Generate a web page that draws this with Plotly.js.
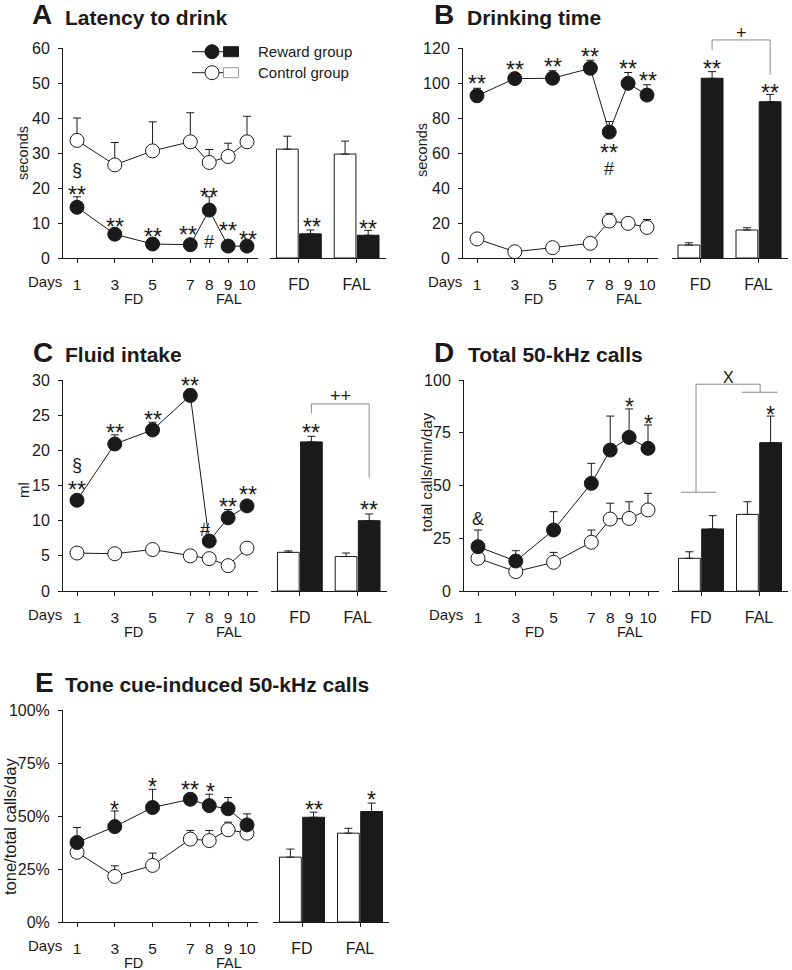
<!DOCTYPE html>
<html>
<head>
<meta charset="utf-8">
<script src="https://cdn.plot.ly/plotly-3.0.1.min.js"></script>
<style>
  body { margin: 0; background: #fff; }
  #chart { width: 792px; height: 970px; }
</style>
</head>
<body>
<div id="chart"></div>
<script>
// ---- data ----
const days = [1, 3, 5, 7, 8, 9, 10];
const phases = ['FD', 'FAL'];

// A: latency to drink (s)
const latReward = [14.5, 6.8, 4.0, 3.8, 13.7, 3.4, 3.4];
const latRewardErr = [3.0, 0.8, 0.5, 0.5, 3.8, 0.5, 0.5];
const latControl = [33.6, 26.6, 30.6, 33.2, 27.3, 29.0, 33.2];
const latControlErr = [6.4, 6.4, 8.3, 8.3, 3.7, 3.8, 7.3];
const latBarControl = [31.1, 29.7], latBarControlErr = [3.7, 3.7];
const latBarReward = [6.9, 6.5], latBarRewardErr = [1.1, 1.4];

// B: drinking time (s)
const drkReward = [92.7, 102.5, 102.7, 108.4, 72.0, 99.8, 93.1];
const drkRewardErr = [4.3, 1.0, 4.3, 4.6, 6.0, 6.2, 5.9];
const drkControl = [10.9, 3.6, 5.9, 8.4, 21.1, 19.8, 17.5];
const drkControlErr = [0.5, 0.5, 0.5, 0.5, 4.4, 1.2, 4.5];
const drkBarControl = [7.4, 16.0], drkBarControlErr = [1.3, 1.3];
const drkBarReward = [102.7, 89.3], drkBarRewardErr = [3.8, 4.2];

// C: fluid intake (ml)
const fluReward = [12.9, 20.9, 22.9, 27.8, 7.1, 10.4, 12.1];
const fluRewardErr = [0.5, 1.3, 1.1, 0.9, 0.5, 1.2, 0.5];
const fluControl = [5.4, 5.3, 5.9, 5.0, 4.6, 3.6, 6.1];
const fluControlErr = [0.3, 0.3, 0.3, 0.3, 0.3, 0.3, 0.3];
const fluBarControl = [5.5, 4.9], fluBarControlErr = [0.2, 0.5];
const fluBarReward = [21.2, 10.0], fluBarRewardErr = [0.8, 0.95];

// D: total 50-kHz calls (calls/min/day)
const totReward = [21.0, 14.2, 28.9, 51.0, 66.8, 72.8, 67.6];
const totRewardErr = [7.9, 4.9, 8.7, 9.5, 16.1, 13.5, 11.1];
const totControl = [15.5, 9.2, 13.6, 23.1, 34.1, 34.4, 38.4];
const totControlErr = [2.0, 2.0, 4.7, 5.8, 7.5, 7.9, 7.9];
const totBarControl = [15.5, 36.3], totBarControlErr = [3.1, 6.0];
const totBarReward = [29.4, 70.3], totBarRewardErr = [6.3, 12.6];

// E: tone cue-induced calls (% of total)
const toneReward = [37.5, 45.0, 54.0, 57.9, 54.9, 53.4, 45.8];
const toneRewardErr = [7.1, 7.4, 8.6, 1.5, 5.4, 5.3, 5.2];
const toneControl = [32.9, 21.5, 26.7, 39.1, 38.4, 43.5, 41.9];
const toneControlErr = [2.0, 5.0, 5.8, 4.1, 4.8, 3.6, 2.0];
const toneBarControl = [30.6, 41.9], toneBarControlErr = [3.8, 2.3];
const toneBarReward = [49.4, 52.1], toneBarRewardErr = [2.4, 4.0];

// significance marks: [text, x, y]
const marksA = [['§', 1, 25.1], ['**', 1, 20], ['**', 3, 10.9], ['**', 5, 8], ['**', 6.85, 8.6],
                ['**', 8, 19.4], ['#', 8, 4.6], ['**', 9, 9.7], ['**', 10.05, 7.1]];
const marksABar = [['**', 0.22, 10.9], ['**', 1.2, 10.4]];
const marksB = [['**', 1, 103.4], ['**', 3, 111.4], ['**', 5, 113], ['**', 7, 118.9],
                ['**', 8, 64], ['#', 8, 51], ['**', 9, 112], ['**', 10.05, 105]];
const marksBBar = [['**', 0.2, 112], ['**', 1.2, 98.3], ['+', 0.7, 128.6]];
const marksC = [['§', 1, 17.9], ['**', 1, 15.4], ['**', 3, 23.5], ['**', 5, 25.3], ['**', 7, 30.2],
                ['#', 7.75, 8.7], ['**', 9, 12.9], ['**', 10.05, 14.7]];
const marksCBar = [['**', 0.2, 23.5], ['**', 1.2, 12.5], ['++', 0.7, 27.7]];
const marksD = [['&', 1, 34.1], ['*', 9, 90.5], ['*', 10, 82.5]];
const marksDBar = [['*', 1.2, 86.7], ['X', 0.48, 101.4]];
const marksE = [['*', 3, 56.3], ['*', 5, 67], ['**', 7, 65.6], ['*', 8.05, 64.7]];
const marksEBar = [['**', 0.2, 56.3], ['*', 1.2, 61]];

// ---- page geometry (pixels) ----
const W = 792, H = 970;
const px = v => v / W;
const py = v => 1 - v / H;
const ink = '#1a1a1a';

const panels = [
  { letter: 'A', title: 'Latency to drink', ytitle: 'seconds', ytSize: 14.5, lx: [63, 258], bx: [270, 385.5], top: 48, bottom: 258,
    max: 60, dtick: 10, barMax: 60, lead: [30, 63], base: 25, yt: [23, 153],
    rew: latReward, rewErr: latRewardErr, con: latControl, conErr: latControlErr,
    bc: latBarControl, bcErr: latBarControlErr, br: latBarReward, brErr: latBarRewardErr,
    marks: marksA, barMarks: marksABar },
  { letter: 'B', title: 'Drinking time', ytitle: 'seconds', ytSize: 14.5, lx: [463, 658], bx: [671.5, 787.5], top: 48, bottom: 258,
    max: 120, dtick: 20, barMax: 135, lead: [432, 465], base: 25, yt: [422, 150],
    rew: drkReward, rewErr: drkRewardErr, con: drkControl, conErr: drkControlErr,
    bc: drkBarControl, bcErr: drkBarControlErr, br: drkBarReward, brErr: drkBarRewardErr,
    marks: marksB, barMarks: marksBBar },
  { letter: 'C', title: 'Fluid intake', ytitle: 'ml', ytSize: 15, lx: [63, 258], bx: [271, 386.5], top: 380, bottom: 591,
    max: 30, dtick: 5, barMax: 32, lead: [31, 63], base: 362, yt: [23, 490],
    rew: fluReward, rewErr: fluRewardErr, con: fluControl, conErr: fluControlErr,
    bc: fluBarControl, bcErr: fluBarControlErr, br: fluBarReward, brErr: fluBarRewardErr,
    marks: marksC, barMarks: marksCBar },
  { letter: 'D', title: 'Total 50-kHz calls', ytitle: 'total calls/min/day', ytSize: 15, lx: [464, 659], bx: [672, 788], top: 380, bottom: 591,
    max: 100, dtick: 25, barMax: 110, lead: [432, 466], base: 362, yt: [426, 472],
    rew: totReward, rewErr: totRewardErr, con: totControl, conErr: totControlErr,
    bc: totBarControl, bcErr: totBarControlErr, br: totBarReward, brErr: totBarRewardErr,
    marks: marksD, barMarks: marksDBar },
  { letter: 'E', title: 'Tone cue-induced 50-kHz calls', ytitle: 'tone/total calls/day', ytSize: 16.5, lx: [63, 258], bx: [273, 389], top: 710, bottom: 922,
    max: 100, dtick: 25, barMax: 100, suffix: '%', lead: [33, 63], base: 692, yt: [10, 827],
    rew: toneReward, rewErr: toneRewardErr, con: toneControl, conErr: toneControlErr,
    bc: toneBarControl, bcErr: toneBarControlErr, br: toneBarReward, brErr: toneBarRewardErr,
    marks: marksE, barMarks: marksEBar }
];

const layout = {
  width: W, height: H,
  margin: { l: 0, r: 0, t: 0, b: 0 },
  paper_bgcolor: '#fff', plot_bgcolor: 'rgba(0,0,0,0)',
  showlegend: false,
  font: { family: 'Arial, "Liberation Sans", sans-serif', size: 15, color: ink },
  bargap: 0.2, bargroupgap: 0.06,
  annotations: [], shapes: []
};
const traces = [];

function errUp(arr) {
  return { type: 'data', symmetric: false, array: arr, arrayminus: arr.map(() => 0),
           color: ink, thickness: 1, width: 4 };
}
function axName(n, a) { return n === 1 ? a + 'axis' : a + 'axis' + n; }
function axRef(n, a) { return n === 1 ? a : a + n; }

// marks are given in data units; y is turned into page position so nothing is hidden past the axis end
function addMarks(list, xr, p) {
  const scale = (p.bottom - p.top) / p.max;
  list.forEach(([t, x, y]) => {
    const star = t.indexOf('*') >= 0;
    layout.annotations.push({
      text: t, x: x, y: py(p.bottom - y * scale), xref: xr, yref: 'paper', showarrow: false,
      xanchor: 'center', yanchor: 'middle', yshift: star ? -7 : 0,
      font: { size: star ? 23 : (t === 'X' ? 16 : 18), color: ink }
    });
  });
}

panels.forEach((p, i) => {
  const nl = 2 * i + 1, nb = 2 * i + 2;
  const scale = (p.bottom - p.top) / p.max;
  const dayStep = (p.lx[1] - p.lx[0] - 14 - 11) / 9;

  layout[axName(nl, 'x')] = {
    domain: [px(p.lx[0]), px(p.lx[1])], anchor: axRef(nl, 'y'),
    range: [1 - 14 / dayStep, 10 + 11 / dayStep], tickvals: days, ticktext: days.map(String),
    showline: true, linecolor: ink, linewidth: 1, ticks: 'outside', ticklen: 4, tickcolor: ink,
    showgrid: false, zeroline: false, ticklabelstandoff: 8, tickfont: { size: 15.5 }
  };
  layout[axName(nl, 'y')] = {
    domain: [py(p.bottom), py(p.top)], anchor: axRef(nl, 'x'),
    range: [0, p.max], dtick: p.dtick, tick0: 0, ticksuffix: p.suffix || '',
    showline: true, linecolor: ink, linewidth: 1, ticks: 'outside', ticklen: 4, tickcolor: ink,
    showgrid: false, zeroline: false, ticklabelstandoff: 5, tickfont: { size: 16 }
  };
  layout[axName(nb, 'x')] = {
    domain: [px(p.bx[0]), px(p.bx[1])], anchor: axRef(nb, 'y'), type: 'category',
    range: [-0.5, 1.5], showline: true, linecolor: ink, linewidth: 1,
    ticks: 'outside', ticklen: 4, tickcolor: ink, showgrid: false, zeroline: false,
    ticklabelstandoff: 8, tickfont: { size: 16 }
  };
  layout[axName(nb, 'y')] = {
    domain: [py(p.bottom), py(p.bottom - p.barMax * scale)], anchor: axRef(nb, 'x'),
    range: [0, p.barMax], visible: false, showgrid: false, zeroline: false
  };

  const xl = axRef(nl, 'x'), yl = axRef(nl, 'y'), xb = axRef(nb, 'x'), yb = axRef(nb, 'y');
  traces.push({
    type: 'scatter', mode: 'lines+markers', x: days, y: p.con, xaxis: xl, yaxis: yl,
    line: { color: ink, width: 1 }, cliponaxis: false,
    marker: { symbol: 'circle', size: 14, color: '#fff', line: { color: ink, width: 1 } },
    error_y: errUp(p.conErr)
  });
  traces.push({
    type: 'scatter', mode: 'lines+markers', x: days, y: p.rew, xaxis: xl, yaxis: yl,
    line: { color: ink, width: 1 }, cliponaxis: false,
    marker: { symbol: 'circle', size: 14, color: ink, line: { color: ink, width: 1 } },
    error_y: errUp(p.rewErr)
  });
  traces.push({
    type: 'bar', x: phases, y: p.bc, xaxis: xb, yaxis: yb, cliponaxis: false,
    marker: { color: '#fff', line: { color: ink, width: 1 } }, error_y: errUp(p.bcErr)
  });
  traces.push({
    type: 'bar', x: phases, y: p.br, xaxis: xb, yaxis: yb, cliponaxis: false,
    marker: { color: ink, line: { color: ink, width: 1 } }, error_y: errUp(p.brErr)
  });

  // panel title (letter + text share the baseline p.base)
  layout.annotations.push({ text: '<b>' + p.letter + '</b>', x: px(p.lead[0]), y: py(p.base - 10),
    xref: 'paper', yref: 'paper', xanchor: 'left', yanchor: 'middle', showarrow: false,
    font: { size: 28, color: ink } });
  layout.annotations.push({ text: '<b>' + p.title + '</b>', x: px(p.lead[1]), y: py(p.base - 7.5),
    xref: 'paper', yref: 'paper', xanchor: 'left', yanchor: 'middle', showarrow: false,
    font: { size: 21, color: ink } });
  // y title
  layout.annotations.push({ text: p.ytitle, x: px(p.yt[0]), y: py(p.yt[1]), textangle: -90,
    xref: 'paper', yref: 'paper', xanchor: 'center', yanchor: 'middle', showarrow: false,
    font: { size: p.ytSize, color: ink } });
  // Days label and phase labels under the day axis
  layout.annotations.push({ text: 'Days', x: px(p.lx[0] + 1), y: py(p.bottom + 23),
    xref: 'paper', yref: 'paper', xanchor: 'right', yanchor: 'middle', showarrow: false,
    font: { size: 15, color: ink } });
  layout.annotations.push({ text: 'FD', x: 4, y: py(p.bottom + 41), xref: xl, yref: 'paper',
    xanchor: 'center', yanchor: 'middle', showarrow: false, font: { size: 14.5, color: ink } });
  layout.annotations.push({ text: 'FAL', x: 9.05, y: py(p.bottom + 41), xref: xl, yref: 'paper',
    xanchor: 'center', yanchor: 'middle', showarrow: false, font: { size: 14.5, color: ink } });

  addMarks(p.marks, xl, p);
  addMarks(p.barMarks, xb, p);
});

// comparison brackets
const gray = '#8a8a8a';
function seg(xr, yr, x0, y0, x1, y1) {
  layout.shapes.push({ type: 'line', xref: xr, yref: yr, x0, y0, x1, y1, line: { color: gray, width: 1 } });
}
seg('x4', 'y4', 0.2, 118.9, 0.2, 124.6); seg('x4', 'y4', 0.2, 124.6, 1.2, 124.6); seg('x4', 'y4', 1.2, 124.6, 1.2, 104.6);
seg('x6', 'y6', 0.2, 25.3, 0.2, 26.6); seg('x6', 'y6', 0.2, 26.6, 1.2, 26.6); seg('x6', 'y6', 1.2, 26.6, 1.2, 16.1);
seg('x8', 'y8', -0.35, 46.8, 0.26, 46.8); seg('x8', 'y8', -0.086, 46.8, -0.086, 98);
seg('x8', 'y8', -0.086, 98, 1.02, 98); seg('x8', 'y8', 1.02, 98, 1.02, 94.2); seg('x8', 'y8', 0.71, 94.2, 1.32, 94.2);

// legend in panel A
const legendRows = [
  { label: 'Reward group', y: 51.7, fill: ink, box: ink },
  { label: 'Control group', y: 72.7, fill: '#fff', box: '#999' }
];
legendRows.forEach(r => {
  layout.shapes.push({ type: 'line', xref: 'paper', yref: 'paper', x0: px(192), x1: px(224), y0: py(r.y), y1: py(r.y),
    line: { color: ink, width: 1 } });
  layout.shapes.push({ type: 'circle', xref: 'paper', yref: 'paper', x0: px(205), x1: px(219), y0: py(r.y - 7), y1: py(r.y + 7),
    fillcolor: r.fill, line: { color: ink, width: 1 } });
  layout.shapes.push({ type: 'rect', xref: 'paper', yref: 'paper', x0: px(223.5), x1: px(238.5), y0: py(r.y - 5), y1: py(r.y + 5),
    fillcolor: r.fill, line: { color: r.box, width: 1 } });
  layout.annotations.push({ text: r.label, x: px(256), y: py(r.y), xref: 'paper', yref: 'paper',
    xanchor: 'left', yanchor: 'middle', showarrow: false, font: { size: 15, color: ink } });
});

Plotly.newPlot('chart', traces, layout, { staticPlot: true });
</script>
</body>
</html>
